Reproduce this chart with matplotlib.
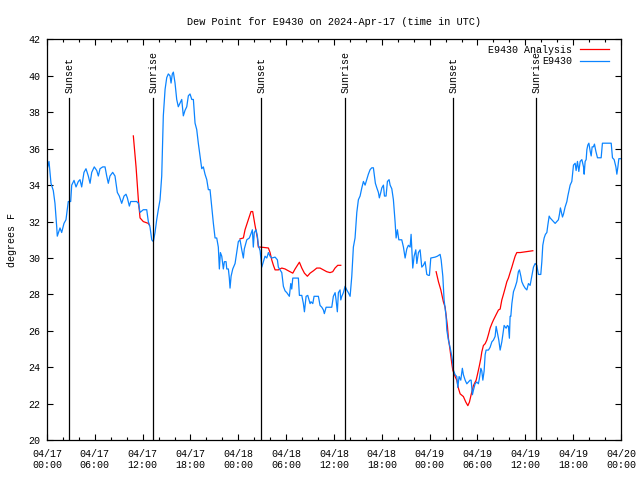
import matplotlib
matplotlib.use("Agg")
import matplotlib.pyplot as plt
import matplotlib.dates as mdates
import numpy as np
import pandas as pd

# ---------------- data (hours since 2024-04-17 00:00 UTC) ----------------
obs_hours = [0.0, 0.25, 0.5, 0.79, 1.0, 1.22, 1.29, 1.63, 1.84, 2.13, 2.38, 2.67, 2.97, 3.1, 3.39,
             3.64, 3.93, 4.14, 4.35, 4.64, 4.89, 5.18, 5.4, 5.61, 5.93, 6.24, 6.44, 6.65, 6.99, 7.28,
             7.49, 7.69, 7.9, 8.24, 8.53, 8.82, 9.07, 9.37, 9.66, 9.91, 10.08, 10.33, 10.5, 11.25,
             11.46, 11.67, 12.08, 12.51, 12.71, 12.92, 13.14, 13.34, 13.55, 13.76, 13.96, 14.18,
             14.39, 14.59, 14.81, 15.02, 15.22, 15.43, 15.56, 15.72, 15.85, 16.06, 16.27, 16.47,
             16.69, 16.9, 17.1, 17.31, 17.53, 17.73, 17.94, 18.16, 18.36, 18.57, 18.78, 18.98, 19.2,
             19.41, 19.61, 19.82, 20.04, 20.24, 20.45, 20.67, 20.87, 21.08, 21.29, 21.49, 21.62,
             21.75, 21.92, 22.12, 22.25, 22.46, 22.55, 22.75, 22.87, 22.96, 23.09, 23.3, 23.59, 23.8,
             24.0, 24.21, 24.43, 24.63, 24.75, 25.06, 25.38, 25.56, 25.76, 25.88, 26.0, 26.22, 26.39,
             26.51, 26.73, 26.85, 26.94, 27.14, 27.35, 27.57, 27.77, 27.98, 28.19, 28.61, 28.9, 29.02,
             29.45, 29.65, 29.86, 30.08, 30.4, 30.58, 30.7, 30.83, 31.53, 31.66, 31.96, 32.16, 32.29,
             32.5, 32.71, 32.87, 33.0, 33.12, 33.34, 33.5, 34.04, 34.25, 34.47, 34.67, 34.79, 35.01,
             35.72, 35.92, 36.14, 36.26, 36.42, 36.55, 36.76, 36.85, 36.98, 37.18, 37.39, 37.6, 37.8,
             38.02, 38.23, 38.43, 38.64, 38.86, 39.06, 39.27, 39.49, 39.69, 39.9, 40.11, 40.31, 40.53,
             40.74, 40.94, 41.07, 41.19, 41.37, 41.57, 41.69, 41.87, 42.0, 42.2, 42.33, 42.53, 42.7,
             42.91, 43.04, 43.25, 43.45, 43.66, 43.79, 43.95, 44.13, 44.5, 44.71, 44.92, 45.13, 45.33,
             45.55, 45.67, 45.76, 45.88, 46.05, 46.26, 46.39, 46.59, 46.8, 47.01, 47.21, 47.43, 47.64,
             47.84, 47.97, 48.14, 48.68, 48.97, 49.31, 49.44, 49.65, 49.81, 50.06, 50.15, 50.35, 50.56,
             50.78, 50.9, 50.98, 51.19, 51.4, 51.53, 51.69, 51.9, 52.1, 52.23, 52.45, 52.66, 52.86,
             53.07, 53.2, 53.36, 53.49, 53.7, 53.91, 54.11, 54.24, 54.42, 54.54, 54.67, 54.83, 54.96,
             55.08, 55.37, 55.58, 55.8, 56.0, 56.21, 56.34, 56.5, 56.67, 56.84, 57.05, 57.18, 57.34,
             57.59, 57.75, 57.88, 58.0, 58.09, 58.18, 58.31, 58.51, 58.72, 58.93, 59.13, 59.26, 59.44,
             59.56, 59.76, 59.97, 60.19, 60.39, 60.6, 60.81, 61.02, 61.23, 61.44, 61.64, 61.94, 62.07,
             62.19, 62.36, 62.52, 62.7, 62.82, 62.99, 63.11, 63.32, 63.53, 63.74, 63.95, 64.15, 64.28,
             64.4, 64.53, 64.66, 64.78, 64.99, 65.21, 65.33, 65.5, 65.62, 65.83, 66.04, 66.25, 66.37,
             66.54, 66.71, 66.88, 67.09, 67.3, 67.38, 67.5, 67.63, 67.72, 67.84, 67.97, 68.14, 68.26,
             68.38, 68.54, 68.67, 68.85, 69.05, 69.51, 69.67, 70.77, 70.93, 71.14, 71.36, 71.48, 71.61,
             71.73, 71.98]
obs_dewpoint = [34.85, 35.3, 34.1, 33.7, 33.0, 31.7, 31.2, 31.65, 31.4, 31.9, 32.1, 33.1, 33.1, 34.0,
                34.26, 33.9, 34.2, 34.3, 33.9, 34.7, 34.9, 34.5, 34.1, 34.7, 35.0, 34.8, 34.5, 34.9,
                35.0, 35.0, 34.5, 34.1, 34.5, 34.7, 34.5, 33.6, 33.4, 33.0, 33.4, 33.5, 33.3, 32.85,
                33.1, 33.1, 33.0, 32.5, 32.65, 32.65, 32.0, 31.7, 31.0, 30.9, 31.4, 32.1, 32.65, 33.2,
                34.5, 37.8, 39.25, 39.9, 40.1, 40.0, 39.6, 40.1, 40.2, 39.6, 38.7, 38.3, 38.5, 38.7,
                37.8, 38.1, 38.3, 38.9, 39.0, 38.7, 38.7, 37.4, 37.05, 36.3, 35.6, 34.9, 35.0, 34.6,
                34.3, 33.75, 33.75, 32.8, 31.9, 31.1, 31.1, 30.6, 29.4, 30.3, 30.1, 29.4, 29.8, 29.8,
                29.4, 29.4, 28.9, 28.35, 29.0, 29.4, 29.7, 30.3, 30.9, 31.0, 30.45, 30.0, 30.5, 31.0,
                31.1, 31.3, 31.55, 30.6, 31.4, 31.55, 31.2, 30.7, 30.4, 29.9, 29.5, 29.8, 30.1, 30.0,
                30.3, 30.1, 30.0, 30.05, 29.9, 29.5, 29.2, 28.45, 28.2, 28.1, 27.9, 28.6, 28.3, 28.9,
                28.9, 27.95, 27.95, 27.5, 27.05, 27.9, 27.95, 27.7, 27.5, 27.6, 27.5, 27.9, 27.9, 27.4,
                27.3, 27.15, 26.95, 27.3, 27.3, 27.9, 28.1, 27.7, 27.05, 28.1, 28.25, 27.7, 27.9, 28.1,
                28.45, 28.25, 28.1, 27.9, 29.0, 30.6, 31.1, 32.5, 33.2, 33.4, 33.85, 34.2, 34.0, 34.3,
                34.6, 34.85, 34.95, 34.95, 34.5, 34.1, 33.85, 33.6, 33.3, 33.6, 33.85, 34.0, 33.4, 33.4,
                34.2, 34.3, 34.0, 33.8, 33.2, 32.0, 31.1, 31.55, 31.0, 31.0, 30.6, 30.0, 30.5, 30.7,
                30.6, 31.3, 30.5, 29.45, 30.1, 30.45, 29.7, 30.3, 30.45, 29.5, 29.6, 29.8, 29.1, 29.05,
                29.05, 30.0, 30.05, 30.1, 30.2, 29.9, 29.0, 27.7, 26.8, 26.05, 25.5, 25.1, 24.6, 24.2,
                23.85, 23.6, 23.5, 22.9, 23.5, 23.3, 23.95, 23.6, 23.3, 23.1, 23.2, 23.3, 23.3, 22.5,
                22.75, 23.1, 23.2, 23.1, 23.4, 23.95, 23.8, 23.3, 23.8, 24.7, 24.95, 24.95, 25.1, 25.4,
                25.5, 25.7, 26.25, 25.9, 25.5, 24.95, 25.4, 25.8, 26.3, 26.15, 26.3, 26.25, 25.6, 26.8,
                26.8, 27.5, 28.15, 28.4, 28.7, 29.25, 29.35, 29.0, 28.7, 28.5, 28.35, 28.25, 28.6, 28.5,
                29.0, 29.5, 29.7, 29.6, 29.1, 29.1, 29.8, 30.7, 31.1, 31.3, 31.4, 31.8, 32.3, 32.2,
                32.1, 32.0, 31.9, 32.0, 32.1, 32.4, 32.75, 32.5, 32.25, 32.4, 32.8, 33.1, 33.4, 33.75,
                34.0, 34.2, 35.1, 35.2, 34.8, 35.3, 34.75, 35.3, 35.4, 35.0, 34.6, 35.3, 35.4, 35.95,
                36.2, 36.3, 35.85, 35.6, 36.1, 36.1, 36.25, 35.85, 35.5, 35.5, 36.3, 36.3, 35.5, 35.4,
                35.0, 34.6, 35.0, 35.45, 35.45]

# analysis series (NaN = gap)
ana_hours = [10.83, 11.17, 11.46, 11.67, 12.08, 12.71, 12.86,
             12.9,
             24.21, 24.63, 24.84, 25.25, 25.59, 25.8, 26.09, 26.39, 26.51, 26.82, 27.77, 27.98, 28.19,
             28.4, 28.61, 29.02, 29.45, 29.86, 30.27, 30.83, 31.12, 31.41, 31.66, 31.96, 32.29, 32.66,
             33.0, 33.42, 33.84, 34.25, 34.67, 35.09, 35.5, 35.84, 36.13, 36.47, 36.85,
             37.0,
             48.81, 49.1, 49.4, 49.72, 49.94, 50.23, 50.35, 50.56, 50.78, 50.9, 51.19, 51.4, 51.61,
             51.82, 52.23, 52.53, 52.79, 52.99, 53.2, 53.49, 53.83, 53.99, 54.24, 54.42, 54.54, 54.74,
             54.96, 55.17, 55.37, 55.58, 55.8, 56.0, 56.34, 56.63, 56.84, 57.05, 57.25, 57.47, 57.68,
             57.88, 58.09, 58.31, 58.51, 58.72, 58.93, 59.35, 60.94]
ana_dewpoint = [36.7, 35.0, 33.2, 32.2, 32.0, 31.9, 31.8,
                np.nan,
                31.05, 31.1, 31.55, 32.1, 32.55, 32.55, 31.8, 31.1, 30.6, 30.6, 30.55, 30.3, 29.9,
                29.6, 29.35, 29.35, 29.45, 29.4, 29.3, 29.17, 29.4, 29.6, 29.77, 29.45, 29.17, 29.0,
                29.17, 29.3, 29.45, 29.45, 29.35, 29.25, 29.2, 29.25, 29.45, 29.6, 29.6,
                np.nan,
                29.25, 28.7, 28.25, 27.6, 27.3, 26.25, 25.6, 24.95, 24.2, 23.85, 23.5, 23.3, 22.85,
                22.55, 22.4, 22.1, 21.9, 22.1, 22.5, 23.0, 23.3, 23.6, 24.1, 24.5, 24.85, 25.2,
                25.3, 25.5, 25.8, 26.15, 26.4, 26.6, 26.9, 27.15, 27.2, 27.7, 28.0, 28.35, 28.7,
                28.9, 29.2, 29.5, 29.8, 30.1, 30.3, 30.3, 30.4]

sun_hours = [2.8, 13.34, 26.9, 37.43, 50.95, 61.39]
sun_labels = ["Sunset", "Sunrise", "Sunset", "Sunrise", "Sunset", "Sunrise"]

title = "Dew Point for E9430 on 2024-Apr-17 (time in UTC)"
ylabel = "degrees F"
series_labels = ["E9430 Analysis", "E9430"]
series_colors = ["#ff0000", "#0b84ff"]

base = pd.Timestamp("2024-04-17 00:00")
to_time = lambda hrs: base + pd.to_timedelta(np.asarray(hrs, dtype=float), unit="h")

FONT = "Liberation Mono"
plt.rcParams["font.family"] = [FONT, "DejaVu Sans Mono"]

fig = plt.figure(figsize=(6.4, 4.8), dpi=100)
ax = fig.add_axes([47 / 640, (480 - 440.3) / 480, 574 / 640, 401 / 480])

ax.plot(to_time(ana_hours), ana_dewpoint, color=series_colors[0], lw=0.9, label=series_labels[0])
ax.plot(to_time(obs_hours), obs_dewpoint, color=series_colors[1], lw=0.9, label=series_labels[1])

for h, lab in zip(sun_hours, sun_labels):
    t = to_time([h])[0]
    ax.axvline(t, ymin=0, ymax=0.853, color="black", lw=0.9)
    ax.text(t, 0.867, lab, transform=ax.get_xaxis_transform(), rotation=90,
            ha="center", va="bottom", fontsize=7.2, rotation_mode="anchor" if False else "default")

ax.set_xlim(base, base + pd.Timedelta(hours=72))
ax.set_ylim(20, 42)
ax.set_yticks(np.arange(20, 43, 2))
ax.xaxis.set_major_locator(mdates.HourLocator(byhour=[0, 6, 12, 18]))
ax.xaxis.set_minor_locator(mdates.HourLocator(interval=2))
ax.xaxis.set_major_formatter(mdates.DateFormatter("%m/%d\n%H:%M"))

ax.tick_params(axis="both", which="both", direction="in", top=True, right=True,
               labelsize=7.2, width=0.8, colors="black")
ax.tick_params(axis="x", which="major", length=4, pad=6)
ax.tick_params(axis="x", which="minor", length=2.2)
ax.tick_params(axis="y", which="major", length=4, pad=5)
for lbl in ax.get_xticklabels():
    lbl.set_horizontalalignment("center")
for s in ax.spines.values():
    s.set_linewidth(0.9)

ax.set_title(title, fontsize=7.4, pad=10.5)
ax.set_ylabel(ylabel, fontsize=7.2, labelpad=8)

leg = ax.legend(loc="upper right", bbox_to_anchor=(0.9796, 0.987), frameon=False,
                markerfirst=False, fontsize=7.2, handlelength=2.9, handletextpad=0.85,
                borderpad=0, borderaxespad=0, labelspacing=0.15)

fig.savefig("out.png", dpi=100)
